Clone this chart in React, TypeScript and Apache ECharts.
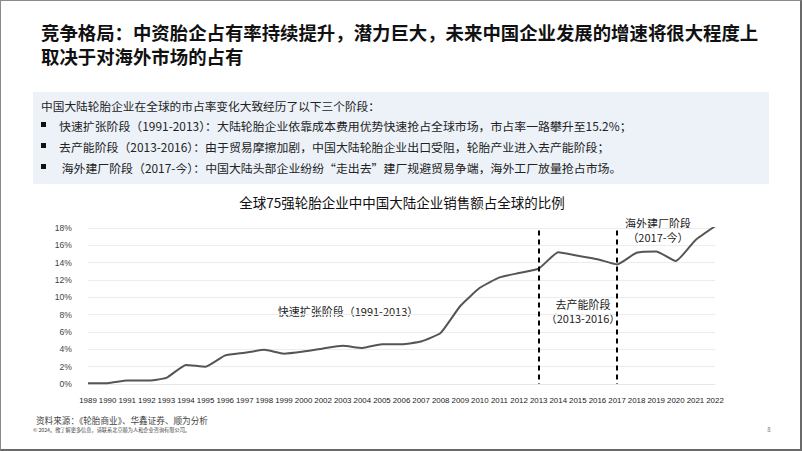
import React, { useEffect, useRef } from "react";
import * as echarts from "echarts";

const years = [
  "1989", "1990", "1991", "1992", "1993", "1994", "1995", "1996", "1997", "1998", "1999", "2000",
  "2002", "2003", "2004", "2005", "2006", "2007", "2008", "2009", "2010", "2011", "2012", "2013",
  "2014", "2015", "2016", "2017", "2018", "2019", "2020", "2021", "2022",
];
const share = [
  0.1, 0.1, 0.4, 0.4, 0.7, 2.2, 2.0, 3.3, 3.6, 3.95, 3.5, 3.75,
  4.1, 4.4, 4.15, 4.6, 4.6, 4.9, 5.9, 9.0, 11.1, 12.3, 12.8, 13.3,
  15.2, 14.8, 14.4, 13.8, 15.15, 15.3, 14.2, 16.6, 18.2,
];
const phaseBreaks = ["2013", "2017"];

const titleLines = [
  "竞争格局：中资胎企占有率持续提升，潜力巨大，未来中国企业发展的增速将很大程度上",
  "取决于对海外市场的占有",
];
const introLine = "中国大陆轮胎企业在全球的市占率变化大致经历了以下三个阶段：";
const bulletLines = [
  "快速扩张阶段（1991-2013）：大陆轮胎企业依靠成本费用优势快速抢占全球市场，市占率一路攀升至15.2%；",
  "去产能阶段（2013-2016）：由于贸易摩擦加剧，中国大陆轮胎企业出口受阻，轮胎产业进入去产能阶段；",
  " 海外建厂阶段（2017-今）：中国大陆头部企业纷纷“走出去”建厂规避贸易争端，海外工厂放量抢占市场。",
];
const chartTitle = "全球75强轮胎企业中中国大陆企业销售额占全球的比例";
const sourceText = "资料来源：《轮胎商业》、华鑫证券、顺为分析";
const copyrightText = "© 2024。欲了解更多信息，请联系北京顺为人和企业咨询有限公司。";

const CJK = "Noto Sans CJK SC";

function txt(text: string, x: number, y: number, size: number, opts: any = {}) {
  return {
    type: "text",
    x,
    y,
    style: {
      text,
      fontFamily: CJK,
      fontSize: size,
      lineHeight: size,
      fontWeight: opts.bold ? "bold" : "normal",
      fill: opts.color || "#222",
      align: opts.align || "left",
      verticalAlign: "middle",
    },
  };
}

export default function App() {
  const ref = useRef<HTMLDivElement>(null);
  useEffect(() => {
    if (!ref.current) return;
    const chart = echarts.init(ref.current, null, { renderer: "svg" });
    const graphics: any[] = [
      {
        type: "rect",
        shape: { x: 32, y: 91, width: 736, height: 92 },
        style: { fill: "#edf2f9" },
        z: 0,
      },
      txt(titleLines[0], 40, 30.5, 18.4, { bold: true, color: "#111" }),
      txt(titleLines[1], 40, 54.5, 18.4, { bold: true, color: "#111" }),
      txt(introLine, 40, 104, 11.7),
      ...bulletLines.flatMap((t, i) => [
        {
          type: "rect",
          shape: { x: 40, y: 121 + i * 21, width: 5, height: 5 },
          style: { fill: "#111" },
        },
        txt(t, 58, 124 + i * 21, 11.9),
      ]),
      txt(chartTitle, 401, 201, 13.5, { align: "center", color: "#111" }),
      txt("快速扩张阶段（1991-2013）", 347, 310, 11, { align: "center" }),
      txt("去产能阶段", 582, 302.5, 11, { align: "center" }),
      txt("（2013-2016）", 582, 317, 11, { align: "center" }),
      txt("海外建厂阶段", 657, 221.5, 11, { align: "center" }),
      txt("（2017-今）", 657, 236, 11, { align: "center" }),
      txt(sourceText, 35, 418.5, 8.6, { color: "#444" }),
      txt(copyrightText, 32, 428.5, 5.2, { color: "#444" }),
      txt("8", 768, 428, 6, { align: "center", color: "#777" }),
    ];
    chart.setOption({
      animation: false,
      backgroundColor: "#ffffff",
      grid: { left: 87, right: 85, top: 227, bottom: 65, containLabel: false },
      xAxis: {
        type: "category",
        data: years,
        boundaryGap: false,
        axisLine: { show: true, lineStyle: { color: "#e6e6e6" } },
        axisTick: { show: false },
        axisLabel: {
          interval: 0,
          color: "#222",
          fontSize: 7.9,
          fontFamily: '"Liberation Sans", Arial, sans-serif',
          margin: 12,
        },
        splitLine: { show: false },
      },
      yAxis: {
        type: "value",
        min: 0,
        max: 18,
        interval: 2,
        axisLine: { show: false },
        axisTick: { show: false },
        axisLabel: {
          formatter: "{value}%",
          color: "#444",
          fontSize: 8.6,
          fontFamily: '"Liberation Sans", Arial, sans-serif',
          margin: 16,
          verticalAlign: "middle",
          padding: [8, 0, 0, 0],
        },
        splitLine: { lineStyle: { color: "#ececec", width: 1 } },
      },
      series: [
        {
          type: "line",
          data: share,
          symbol: "none",
          smooth: 0.15,
          lineStyle: { color: "#555555", width: 2 },
          markLine: {
            silent: true,
            symbol: "none",
            label: { show: false },
            lineStyle: { color: "#000", type: [5, 4], width: 2 },
            data: phaseBreaks.map((y) => [
              { xAxis: y, yAxis: 17.7 },
              { xAxis: y, yAxis: 0 },
            ]),
          },
        },
      ],
      graphic: graphics,
    });
    return () => chart.dispose();
  }, []);
  return (
    <div
      style={{
        position: "absolute",
        left: 0,
        top: 0,
        width: 802,
        height: 451,
        boxSizing: "border-box",
        borderTop: "1px solid #8a8a8a",
        borderLeft: "1px solid #8a8a8a",
        borderRight: "2px solid #6a6a6a",
        borderBottom: "2px solid #6a6a6a",
        background: "#fff",
      }}
    >
      <div ref={ref} style={{ width: 799, height: 448 }} />
    </div>
  );
}
